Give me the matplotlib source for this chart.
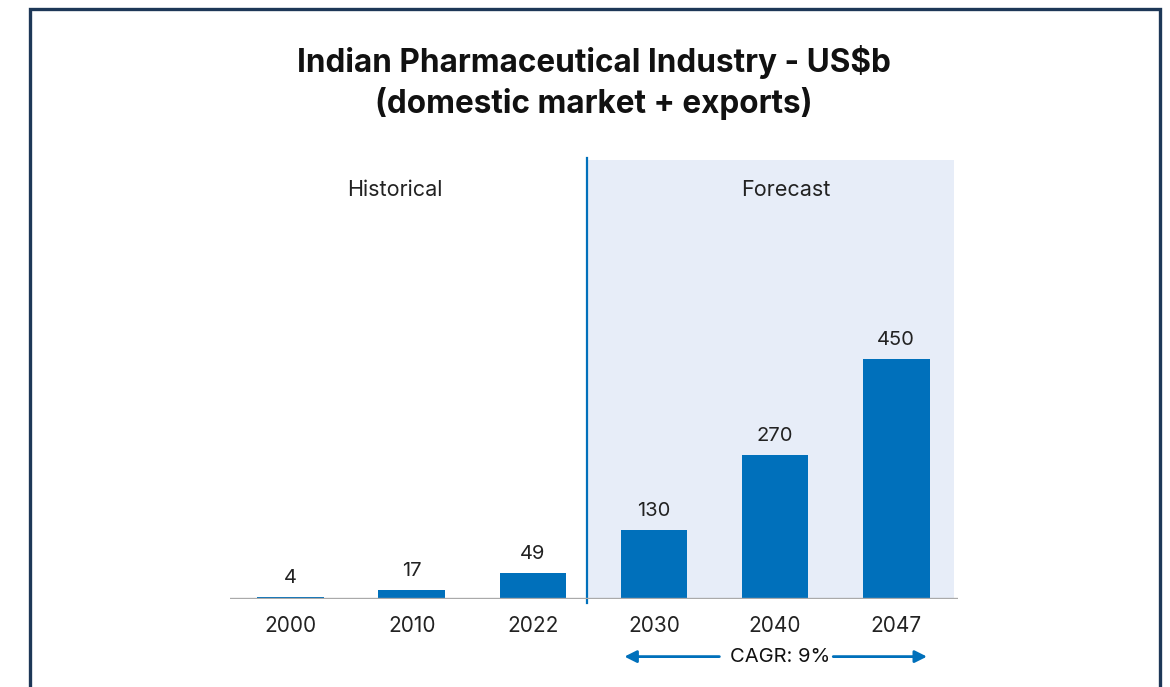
import matplotlib
matplotlib.use("Agg")
import matplotlib.pyplot as plt
from matplotlib.patches import Rectangle

plt.rcParams['font.family'] = ['Inter', 'DejaVu Sans']

years = ["2000", "2010", "2022", "2030", "2040", "2047"]
values = [4, 17, 49, 130, 270, 450]
title = "Indian Pharmaceutical Industry - US$b\n(domestic market + exports)"
section_labels = ["Historical", "Forecast"]
cagr_label = "CAGR: 9%"

BAR = "#0070bb"
SHADE = "#e7edf8"
BORDER = "#1d3757"

W, H = 1170, 687
fig = plt.figure(figsize=(W / 100, H / 100), dpi=100)

# outer frame
fig.patches.append(Rectangle((30 / W, -0.05), 1130 / W, 1.05 - 9 / H,
                             transform=fig.transFigure, fill=False,
                             edgecolor=BORDER, linewidth=2.4, zorder=0))

fig.text(594 / W, 1 - 82.5 / H, title, ha="center", va="center",
         fontsize=22.7, fontweight="bold", color="#111111", linespacing=1.28)

ax = fig.add_axes([230 / W, 88 / H, 728 / W, 439 / H])
x = list(range(len(years)))
ax.bar(x, values, width=0.55, color=BAR, zorder=3)
ax.set_xlim(-0.5, 5.51)
ax.set_ylim(0, 823)

split = 2.45
ax.axvspan(split, 5.48, color=SHADE, zorder=0, lw=0)
ax.plot([split, split], [-8, 826], color=BAR, lw=1.6, clip_on=False, zorder=4)
ax.axhline(0, color="#aaaaaa", lw=2.4, zorder=5)

for xi, v in zip(x, values):
    ax.annotate(str(v), (xi, v), xytext=(0, 7), textcoords="offset points",
                ha="center", va="bottom", fontsize=14.5, color="#222222")

ax.set_xticks(x)
ax.set_xticklabels(years, fontsize=15, color="#222222")
ax.tick_params(axis="x", length=0, pad=12)
ax.set_yticks([])
for s in ax.spines.values():
    s.set_visible(False)

ax.text(0.86, 767, section_labels[0], ha="center", va="center", fontsize=15.5, color="#222222")
ax.text(4.09, 767, section_labels[1], ha="center", va="center", fontsize=15.5, color="#222222")

# CAGR arrows
ya = -108
ax.text(4.04, ya, cagr_label, ha="center", va="center", fontsize=14.5, color="#111111",
        clip_on=False)
ax.annotate("", xy=(2.756, ya), xytext=(3.54, ya), xycoords="data",
            arrowprops=dict(arrowstyle="-|>", color=BAR, lw=2, mutation_scale=18,
                            shrinkA=0, shrinkB=0),
            annotation_clip=False)
ax.annotate("", xy=(5.254, ya), xytext=(4.48, ya), xycoords="data",
            arrowprops=dict(arrowstyle="-|>", color=BAR, lw=2, mutation_scale=18,
                            shrinkA=0, shrinkB=0),
            annotation_clip=False)

fig.savefig("out.png", dpi=100)
